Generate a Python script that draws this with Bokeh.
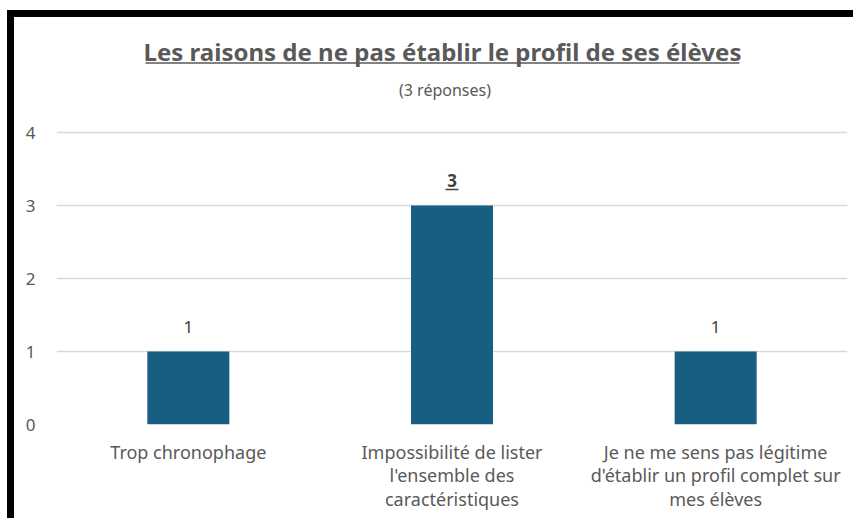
from bokeh.plotting import figure
from bokeh.models import Range1d, FixedTicker, ColumnDataSource
from bokeh.core.properties import value
from bokeh.embed import file_html
from bokeh.resources import INLINE

# ---- data ----
categories = [
    "Trop chronophage",
    "Impossibilité de lister\nl'ensemble des\ncaractéristiques",
    "Je ne me sens pas légitime\nd'établir un profil complet sur\nmes élèves",
]
counts = [1, 3, 1]
y_ticks = [0, 1, 2, 3, 4]
title_text = "Les raisons de ne pas établir le profil de ses élèves"
subtitle_text = "(3 réponses)"

# ---- layout constants (pixels) ----
FONT = "Noto Sans"
GREY = "#595959"
LABEL = "#404040"
BAR = "#175E80"
PX_PER_UNIT = 73.0          # vertical pixels per unit
FRAME_TOP_EXTRA = 115       # pixels above the "4" gridline kept inside the frame
CAT_PX = 263.67             # horizontal pixels per category

xs = [i + 0.5 for i in range(len(categories))]
y_end = max(y_ticks) + FRAME_TOP_EXTRA / PX_PER_UNIT

def py(px_above_zero):
    return px_above_zero / PX_PER_UNIT

def px(px_from_left):
    return px_from_left / CAT_PX

p = figure(width=846, height=508, output_backend="svg", toolbar_location=None,
           x_range=Range1d(0, len(categories)), y_range=Range1d(0, y_end),
           min_border_left=42, min_border_right=13, min_border_top=0,
           min_border_bottom=101)
p.styles = {"border-left": "7px solid black", "border-top": "7px solid black",
            "margin-top": "10px", "margin-left": "7px"}
p.outline_line_color = None
p.background_fill_color = "white"
p.border_fill_color = "white"

src = ColumnDataSource(dict(x=xs, top=counts,
                            lab=[str(c) for c in counts],
                            style=["bold" if c == max(counts) else "normal" for c in counts]))
p.vbar(x="x", top="top", bottom=0, width=0.311, source=src,
       fill_color=BAR, line_color=None)

p.text(x="x", y="top", text="lab", source=src, text_align="center",
       text_baseline="middle", y_offset=-25, text_font=value(FONT),
       text_font_size="17px", text_color=LABEL, text_font_style="style")

# underline for the emphasised (maximum) label
imax = counts.index(max(counts))
p.segment(x0=[xs[imax] - px(6.5)], x1=[xs[imax] + px(6.5)],
          y0=[counts[imax] + py(16)], y1=[counts[imax] + py(16)],
          line_color=LABEL, line_width=1.3)

# title + subtitle
p.text(x=[px(386)], y=[py(373)], text=[title_text], text_align="center",
       text_baseline="middle", text_font=value(FONT), text_font_size="24px",
       text_font_style="bold", text_color=GREY)
p.segment(x0=[px(89)], x1=[px(683)], y0=[py(361.5)], y1=[py(361.5)],
          line_color=GREY, line_width=1.5)
p.text(x=[px(388.5)], y=[py(335)], text=[subtitle_text], text_align="center",
       text_baseline="middle", text_font=value(FONT), text_font_size="16px",
       text_color=GREY)

# axes
p.yaxis.ticker = FixedTicker(ticks=y_ticks)
p.yaxis.axis_line_color = None
p.yaxis.major_tick_line_color = None
p.yaxis.minor_tick_line_color = None
p.yaxis.major_label_text_font = FONT
p.yaxis.major_label_text_font_size = "17px"
p.yaxis.major_label_text_color = GREY
p.yaxis.major_label_standoff = 15

p.xaxis.ticker = FixedTicker(ticks=xs)
p.xaxis.major_label_overrides = {x: c for x, c in zip(xs, categories)}
p.xaxis.axis_line_color = None
p.xaxis.major_tick_line_color = None
p.xaxis.minor_tick_line_color = None
p.xaxis.major_label_text_font = FONT
p.xaxis.major_label_text_font_size = "18px"
p.xaxis.major_label_text_line_height = 0.98
p.xaxis.major_label_text_color = GREY
p.xaxis.major_label_standoff = 9

p.xgrid.grid_line_color = None
p.ygrid.ticker = FixedTicker(ticks=y_ticks)
p.ygrid.grid_line_color = "#D9D9D9"
p.ygrid.grid_line_width = 1.3

open("out.html", "w").write(file_html(p, INLINE))
